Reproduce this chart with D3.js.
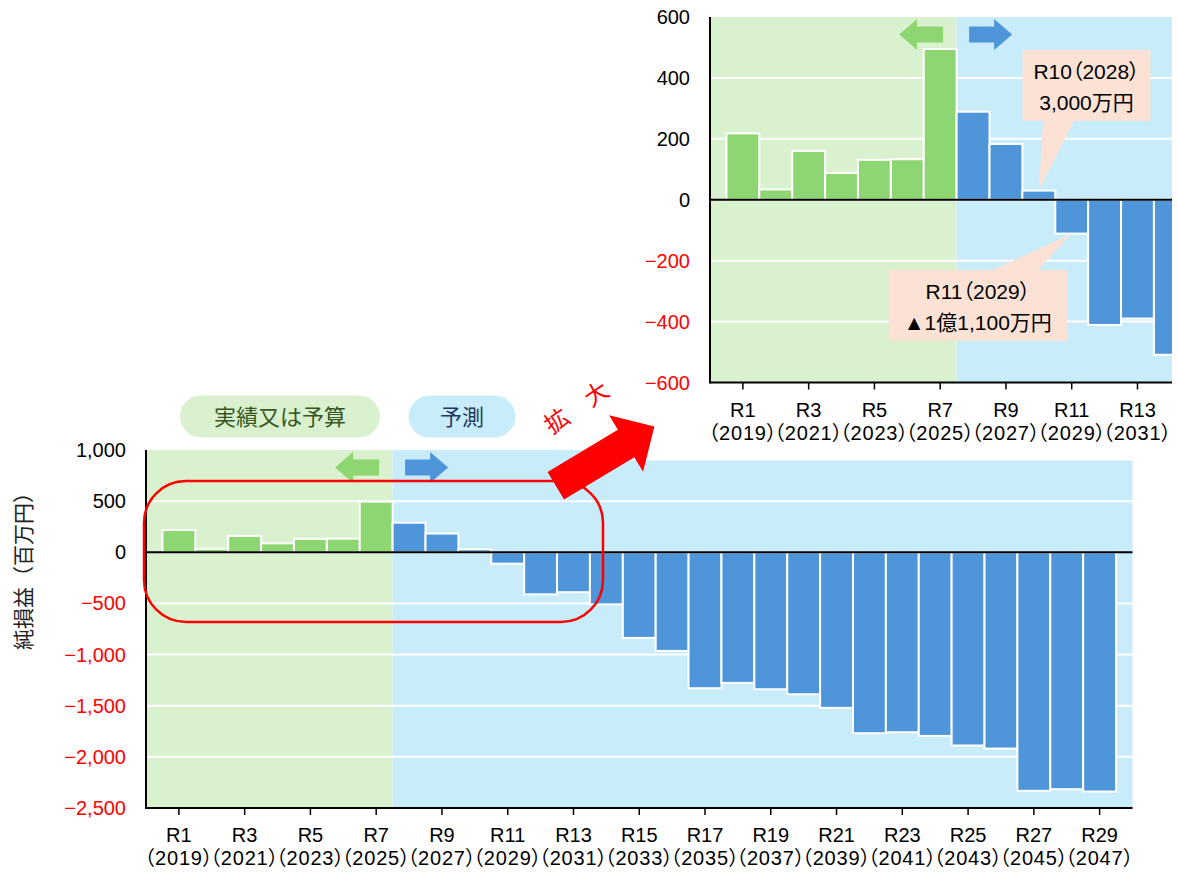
<!DOCTYPE html>
<html>
<head>
<meta charset="utf-8">
<script src="https://cdn.jsdelivr.net/npm/d3@7"></script>
<style>
  body { margin: 0; background: #fff; }
  svg { display: block; font-family: "Liberation Sans", "Noto Sans CJK JP", sans-serif; }
  .palt { font-feature-settings: "palt"; }
</style>
</head>
<body>
<svg id="chart" width="1178" height="872"></svg>
<script>
// Fiscal years (Reiwa era) and calendar years
const eras = ["R1","R2","R3","R4","R5","R6","R7","R8","R9","R10","R11","R12","R13","R14","R15",
              "R16","R17","R18","R19","R20","R21","R22","R23","R24","R25","R26","R27","R28","R29"];
const years = [2019,2020,2021,2022,2023,2024,2025,2026,2027,2028,2029,2030,2031,2032,2033,
               2034,2035,2036,2037,2038,2039,2040,2041,2042,2043,2044,2045,2046,2047];
// Net income / loss, millions of yen
const netIncome = [218, 34, 160, 88, 131, 133, 495, 289, 183, 30, -111, -411, -390, -509, -837,
                   -964, -1329, -1277, -1339, -1388, -1521, -1769, -1759, -1795, -1889, -1919, -2332, -2316, -2339];
// R1–R7 are actual or budgeted figures, the rest are forecasts
const actualCount = 7;
const mainTicks = [1000, 500, 0, -500, -1000, -1500, -2000, -2500];
const zoomTicks = [600, 400, 200, 0, -200, -400, -600];
const labeledEras = ["R1","R3","R5","R7","R9","R11","R13","R15","R17","R19","R21","R23","R25","R27","R29"];
const zoomLabeledEras = ["R1","R3","R5","R7","R9","R11","R13"];
const legendLabels = ["実績又は予算", "予測"];
const yTitle = "純損益（百万円）";
const callouts = [
  { era: "R10", lines: ["R10（2028）", "3,000万円"] },
  { era: "R11", lines: ["R11（2029）", "▲1億1,100万円"] }
];

const C = {
  greenBg: "#d9f1cf", blueBg: "#c9ecfb",
  greenBar: "#8ed672", blueBar: "#4f95d9",
  red: "#ff0000", callout: "#fbe2d5"
};

const svg = d3.select("#chart");
const fmt = d3.format(",");
const yearOf = e => years[eras.indexOf(e)];
const barColor = (d, i) => i < actualCount ? C.greenBar : C.blueBar;

// Generic panel renderer used for the full chart and the enlarged view
function drawPanel(g, x, y, ticks, labeled, box, clipId) {
  const split = x(eras[actualCount]);
  const inner = clipId ? g.append("g").attr("clip-path", `url(#${clipId})`) : g;
  inner.append("rect").attr("x", box.left).attr("y", box.top)
    .attr("width", split - box.left).attr("height", box.bottom - box.top).attr("fill", C.greenBg);
  inner.append("rect").attr("x", split).attr("y", box.top)
    .attr("width", box.right - split).attr("height", box.bottom - box.top).attr("fill", C.blueBg);

  // white gridlines
  inner.selectAll("line.grid").data(ticks.filter(t => t !== 0 && t !== ticks[0] && t !== ticks[ticks.length - 1]))
    .join("line").attr("class", "grid")
    .attr("x1", box.left).attr("x2", box.right)
    .attr("y1", d => y(d)).attr("y2", d => y(d))
    .attr("stroke", "#fff").attr("stroke-width", 2);

  // bars
  inner.selectAll("rect.bar").data(netIncome).join("rect").attr("class", "bar")
    .attr("x", (d, i) => x(eras[i]))
    .attr("width", x.bandwidth())
    .attr("y", d => y(Math.max(0, d)))
    .attr("height", d => Math.abs(y(d) - y(0)))
    .attr("fill", barColor)
    .attr("stroke", "#fff").attr("stroke-width", 2);

  // zero line
  g.append("line").attr("x1", box.left).attr("x2", box.right)
    .attr("y1", y(0)).attr("y2", y(0)).attr("stroke", "#000").attr("stroke-width", 2);

  // axes lines
  g.append("line").attr("x1", box.left).attr("x2", box.left)
    .attr("y1", box.top).attr("y2", box.bottom + 1).attr("stroke", "#000").attr("stroke-width", 2);
  g.append("line").attr("x1", box.left).attr("x2", box.right)
    .attr("y1", box.bottom).attr("y2", box.bottom).attr("stroke", "#000").attr("stroke-width", 2);

  // y tick labels
  g.selectAll("text.ytick").data(ticks).join("text").attr("class", "ytick")
    .attr("x", box.left - 20).attr("y", d => y(d))
    .attr("text-anchor", "end").attr("dominant-baseline", "central")
    .attr("font-size", 20)
    .attr("fill", d => d < 0 ? C.red : "#000")
    .text(d => fmt(d));

  // x ticks and two-line labels
  const cx = e => x(e) + x.bandwidth() / 2;
  g.selectAll("line.xtick").data(labeled).join("line").attr("class", "xtick")
    .attr("x1", cx).attr("x2", cx)
    .attr("y1", box.bottom).attr("y2", box.bottom + 7)
    .attr("stroke", "#000").attr("stroke-width", 1.5);
  const lbl = g.selectAll("text.xlab").data(labeled).join("text").attr("class", "xlab palt")
    .attr("text-anchor", "middle").attr("font-size", 20).attr("fill", "#000");
  lbl.append("tspan").attr("x", cx).attr("y", box.bottom + 34).text(d => d);
  lbl.append("tspan").attr("x", cx).attr("y", box.bottom + 57)
    .attr("letter-spacing", 0.8).text(d => `（${yearOf(d)}）`);

  // phase arrows (green ← actual, blue → forecast)
  const cy = box.top + 17.5;
  g.append("path").attr("fill", C.greenBar)
    .attr("d", `M${split - 57.5},${cy} L${split - 39.5},${cy - 15.5} V${cy - 8} H${split - 13.5} V${cy + 8} H${split - 39.5} V${cy + 15.5} Z`);
  g.append("path").attr("fill", C.blueBar)
    .attr("d", `M${split + 55.5},${cy} L${split + 37.5},${cy - 15.5} V${cy - 8} H${split + 12.5} V${cy + 8} H${split + 37.5} V${cy + 15.5} Z`);
}

// ---- full chart ----
const M = { left: 146, right: 1132.5, top: 450, bottom: 808 };
const xMain = d3.scaleBand().domain(eras).range([M.left, M.right]).paddingInner(0).paddingOuter(0.5);
const yMain = d3.scaleLinear().domain([-2500, 1000]).range([M.bottom, M.top]);
drawPanel(svg.append("g"), xMain, yMain, mainTicks, labeledEras, M, null);

// y-axis title
svg.append("text").attr("transform", "translate(23,566) rotate(-90)")
  .attr("text-anchor", "middle").attr("dominant-baseline", "central")
  .attr("font-size", 21).attr("fill", "#222").text(yTitle);

// legend pills
const pills = [
  { x: 180, w: 200, fill: C.greenBg, color: "#385723" },
  { x: 408.5, w: 107, fill: C.blueBg, color: "#1f3864" }
];
pills.forEach((p, i) => {
  svg.append("rect").attr("x", p.x).attr("y", 395.5).attr("width", p.w).attr("height", 42)
    .attr("rx", 21).attr("fill", p.fill);
  svg.append("text").attr("x", p.x + p.w / 2).attr("y", 417.5)
    .attr("text-anchor", "middle").attr("dominant-baseline", "central")
    .attr("font-size", 22).attr("fill", p.color).text(legendLabels[i]);
});

// highlight of the enlarged range
svg.append("rect").attr("x", 144).attr("y", 481).attr("width", 459).attr("height", 141)
  .attr("rx", 42).attr("fill", "none").attr("stroke", C.red).attr("stroke-width", 2.5);

// ---- enlarged view R1–R14 ----
svg.append("rect").attr("x", 632).attr("y", 0).attr("width", 546).attr("height", 460.5).attr("fill", "#fff");
const Z = { left: 710, right: 1172, top: 17, bottom: 382.5 };
svg.append("clipPath").attr("id", "zoomClip").append("rect")
  .attr("x", Z.left).attr("y", 0).attr("width", Z.right - Z.left).attr("height", Z.bottom);
const xZoom = d3.scaleBand().domain(eras).range([Z.left, Z.left + (M.right - M.left)]).paddingInner(0).paddingOuter(0.5);
const yZoom = d3.scaleLinear().domain([-600, 600]).range([Z.bottom, Z.top]);
const zg = svg.append("g");
drawPanel(zg, xZoom, yZoom, zoomTicks, zoomLabeledEras, Z, "zoomClip");

// callout boxes pointing at R10 and R11
const boxes = [
  { x0: 1022.5, x1: 1150.5, y0: 50, y1: 120.7, base: [1043, 1074], side: "bottom" },
  { x0: 888.7, x1: 1067, y0: 270, y1: 340.7, base: [993, 1038], side: "top" }
];
callouts.forEach((c, i) => {
  const b = boxes[i];
  const idx = eras.indexOf(c.era);
  const v = netIncome[idx];
  const tx = xZoom(c.era) + xZoom.bandwidth() / 2;
  const ty = yZoom(v);
  const d = b.side === "bottom"
    ? `M${b.x0},${b.y0} H${b.x1} V${b.y1} H${b.base[1]} L${tx},${ty} L${b.base[0]},${b.y1} H${b.x0} Z`
    : `M${b.x0},${b.y0} H${b.base[0]} L${tx},${ty} L${b.base[1]},${b.y0} H${b.x1} V${b.y1} H${b.x0} Z`;
  zg.append("path").attr("d", d).attr("fill", C.callout);
  const mx = (b.x0 + b.x1) / 2;
  const t = zg.append("text").attr("class", "palt").attr("text-anchor", "middle")
    .attr("font-size", 21).attr("fill", "#000");
  t.append("tspan").attr("x", mx).attr("y", b.y0 + 29).text(c.lines[0]);
  t.append("tspan").attr("x", mx).attr("y", b.y0 + 60).text(c.lines[1]);
});

// big red arrow and caption
svg.append("path").attr("fill", C.red)
  .attr("transform", "translate(555.8,485.8) rotate(-31)")
  .attr("d", "M0,-16 H82 V-33 L115,0 L82,33 V16 H0 Z");
svg.append("text").attr("transform", "translate(576.5,407.5) rotate(-34)")
  .attr("text-anchor", "middle").attr("dominant-baseline", "central")
  .attr("font-size", 24).attr("fill", C.red).text("拡　大");
</script>
</body>
</html>
